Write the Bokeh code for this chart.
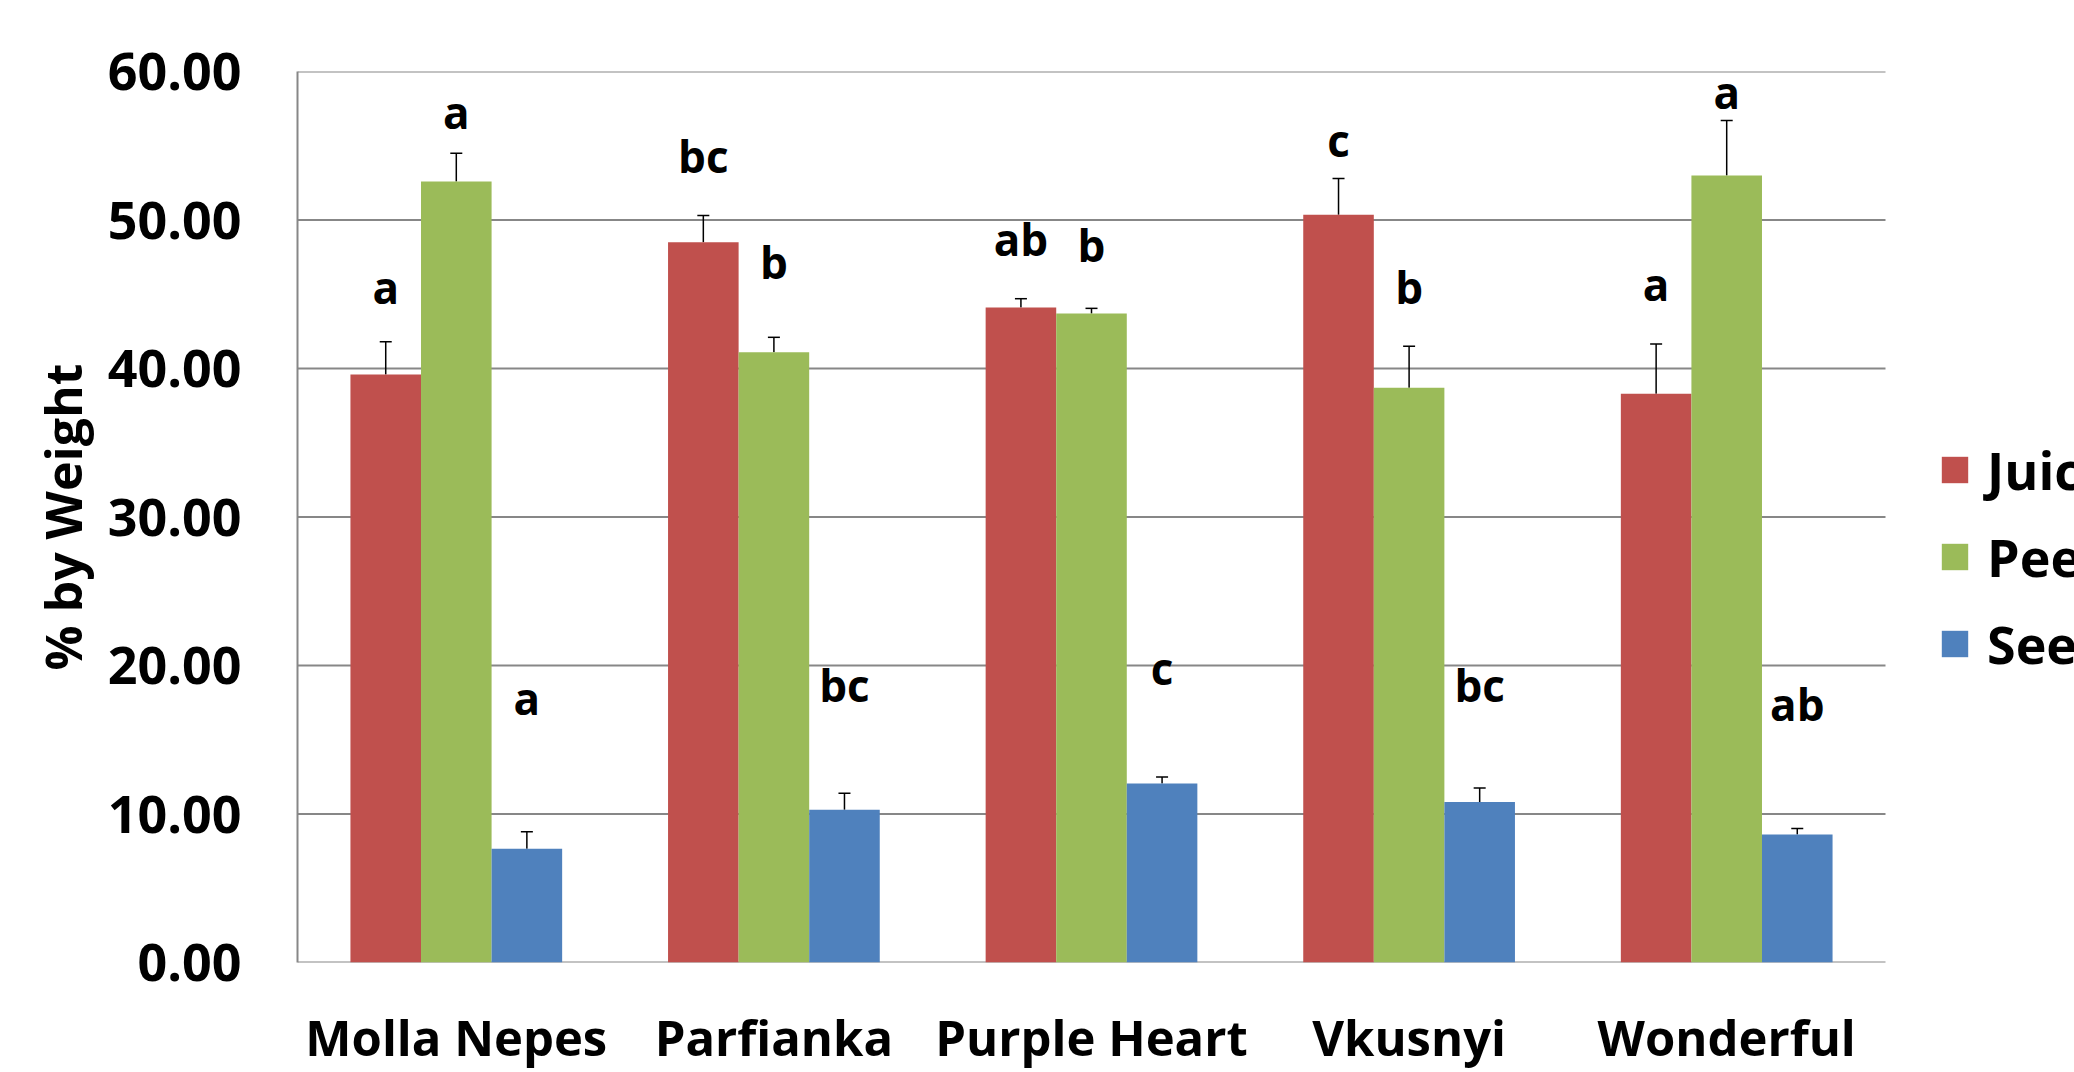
import numpy as np
from bokeh.plotting import figure
from bokeh.models import (ColumnDataSource, Range1d, FixedTicker, PrintfTickFormatter,
                          Whisker, TeeHead, Legend, LegendItem)
from bokeh.core.properties import value
from bokeh.embed import file_html
from bokeh.resources import INLINE

# ---- data ----
cultivars = ["Molla Nepes", "Parfianka", "Purple Heart", "Vkusnyi", "Wonderful"]
juice = [39.6, 48.5, 44.1, 50.35, 38.3]
juice_err = [2.2, 1.8, 0.6, 2.45, 3.35]
peel = [52.6, 41.1, 43.7, 38.7, 53.0]
peel_err = [1.9, 1.0, 0.35, 2.8, 3.7]
seed = [7.66, 10.28, 12.05, 10.8, 8.62]
seed_err = [1.14, 1.12, 0.45, 0.95, 0.4]
juice_letters = ["a", "bc", "ab", "c", "a"]
peel_letters = ["a", "b", "b", "b", "a"]
seed_letters = ["a", "bc", "c", "bc", "ab"]
# letter annotation baselines (data units)
juice_letter_y = [45.5, 54.3, 48.7, 55.4, 45.7]
peel_letter_y = [57.3, 47.2, 48.3, 45.5, 58.6]
seed_letter_y = [17.8, 18.7, 19.8, 18.7, 17.4]
y_ticks = [0, 10, 20, 30, 40, 50, 60]

FONT = "Open Sans"
GRID = "#878787"
BAR_W = 0.2222
series = [
    ("Juice", juice, juice_err, juice_letters, juice_letter_y, "#C0504D", -BAR_W),
    ("Peel", peel, peel_err, peel_letters, peel_letter_y, "#9BBB59", 0.0),
    ("Seed", seed, seed_err, seed_letters, seed_letter_y, "#4F81BD", BAR_W),
]

n = len(cultivars)
centers = np.arange(n) + 0.5
# plot area spans n categories; extra room on the right holds the legend
x_end = n * 1777 / 1588

p = figure(width=2074, height=1072, x_range=Range1d(0, x_end), y_range=Range1d(0, 60),
           output_backend="svg", toolbar_location=None,
           min_border_left=297, min_border_right=0, min_border_top=71, min_border_bottom=110)
p.outline_line_color = None
p.background_fill_color = "white"
p.border_fill_color = "white"
p.xgrid.grid_line_color = None
p.ygrid.grid_line_color = None

# horizontal gridlines across the category area only
p.segment(x0=[0] * len(y_ticks), x1=[n] * len(y_ticks), y0=y_ticks, y1=y_ticks,
          line_color=GRID, line_width=2, level="underlay")

p.yaxis.ticker = FixedTicker(ticks=y_ticks)
p.yaxis.formatter = PrintfTickFormatter(format="%.2f")
p.yaxis.axis_label = "% by Weight"
p.xaxis.ticker = FixedTicker(ticks=list(centers))
p.xaxis.major_label_overrides = {float(c): name for c, name in zip(centers, cultivars)}
for ax in (p.xaxis[0], p.yaxis[0]):
    ax.axis_line_color = GRID
    ax.axis_line_width = 2
    ax.major_tick_line_color = None
    ax.minor_tick_line_color = None
    ax.major_tick_out = 0
    ax.major_tick_in = 0
    ax.major_label_text_font = FONT
    ax.major_label_text_font_style = "bold"
    ax.major_label_text_color = "black"
p.xaxis.axis_line_color = None
p.yaxis.major_label_text_font_size = "52px"
p.yaxis.major_label_standoff = 56
p.yaxis.axis_label_text_font = FONT
p.yaxis.axis_label_text_font_style = "bold"
p.yaxis.axis_label_text_font_size = "50px"
p.yaxis.axis_label_text_color = "black"
p.yaxis.axis_label_standoff = 8
p.xaxis.major_label_text_font_size = "49px"
p.xaxis.major_label_standoff = 41

items = []
for name, vals, errs, letters, ly, color, off in series:
    src = ColumnDataSource(dict(x=centers + off, val=vals,
                                hi=[v + e for v, e in zip(vals, errs)],
                                lab=letters, ly=ly))
    r = p.vbar(x="x", top="val", width=BAR_W, source=src, fill_color=color, line_color=None)
    items.append(LegendItem(label=name, renderers=[r]))
    w = Whisker(source=src, base="x", lower="val", upper="hi", dimension="height",
                line_color="black", line_width=1.5,
                upper_head=TeeHead(size=12, line_color="black", line_width=1.5), lower_head=None)
    p.add_layout(w)
    p.text(x="x", y="ly", text="lab", source=src, text_align="center", text_baseline="alphabetic",
           text_font=value(FONT), text_font_style="bold", text_font_size="44px", text_color="black")

legend = Legend(items=items, location=(1641, 283), orientation="vertical",
                glyph_width=33, glyph_height=33, label_height=33, spacing=16,
                label_standoff=16, padding=0, margin=0,
                border_line_color=None, background_fill_alpha=0,
                label_text_font=FONT, label_text_font_style="bold",
                label_text_font_size="52px", label_text_color="black")
p.add_layout(legend, "center")

open("out.html", "w").write(file_html(p, INLINE))
